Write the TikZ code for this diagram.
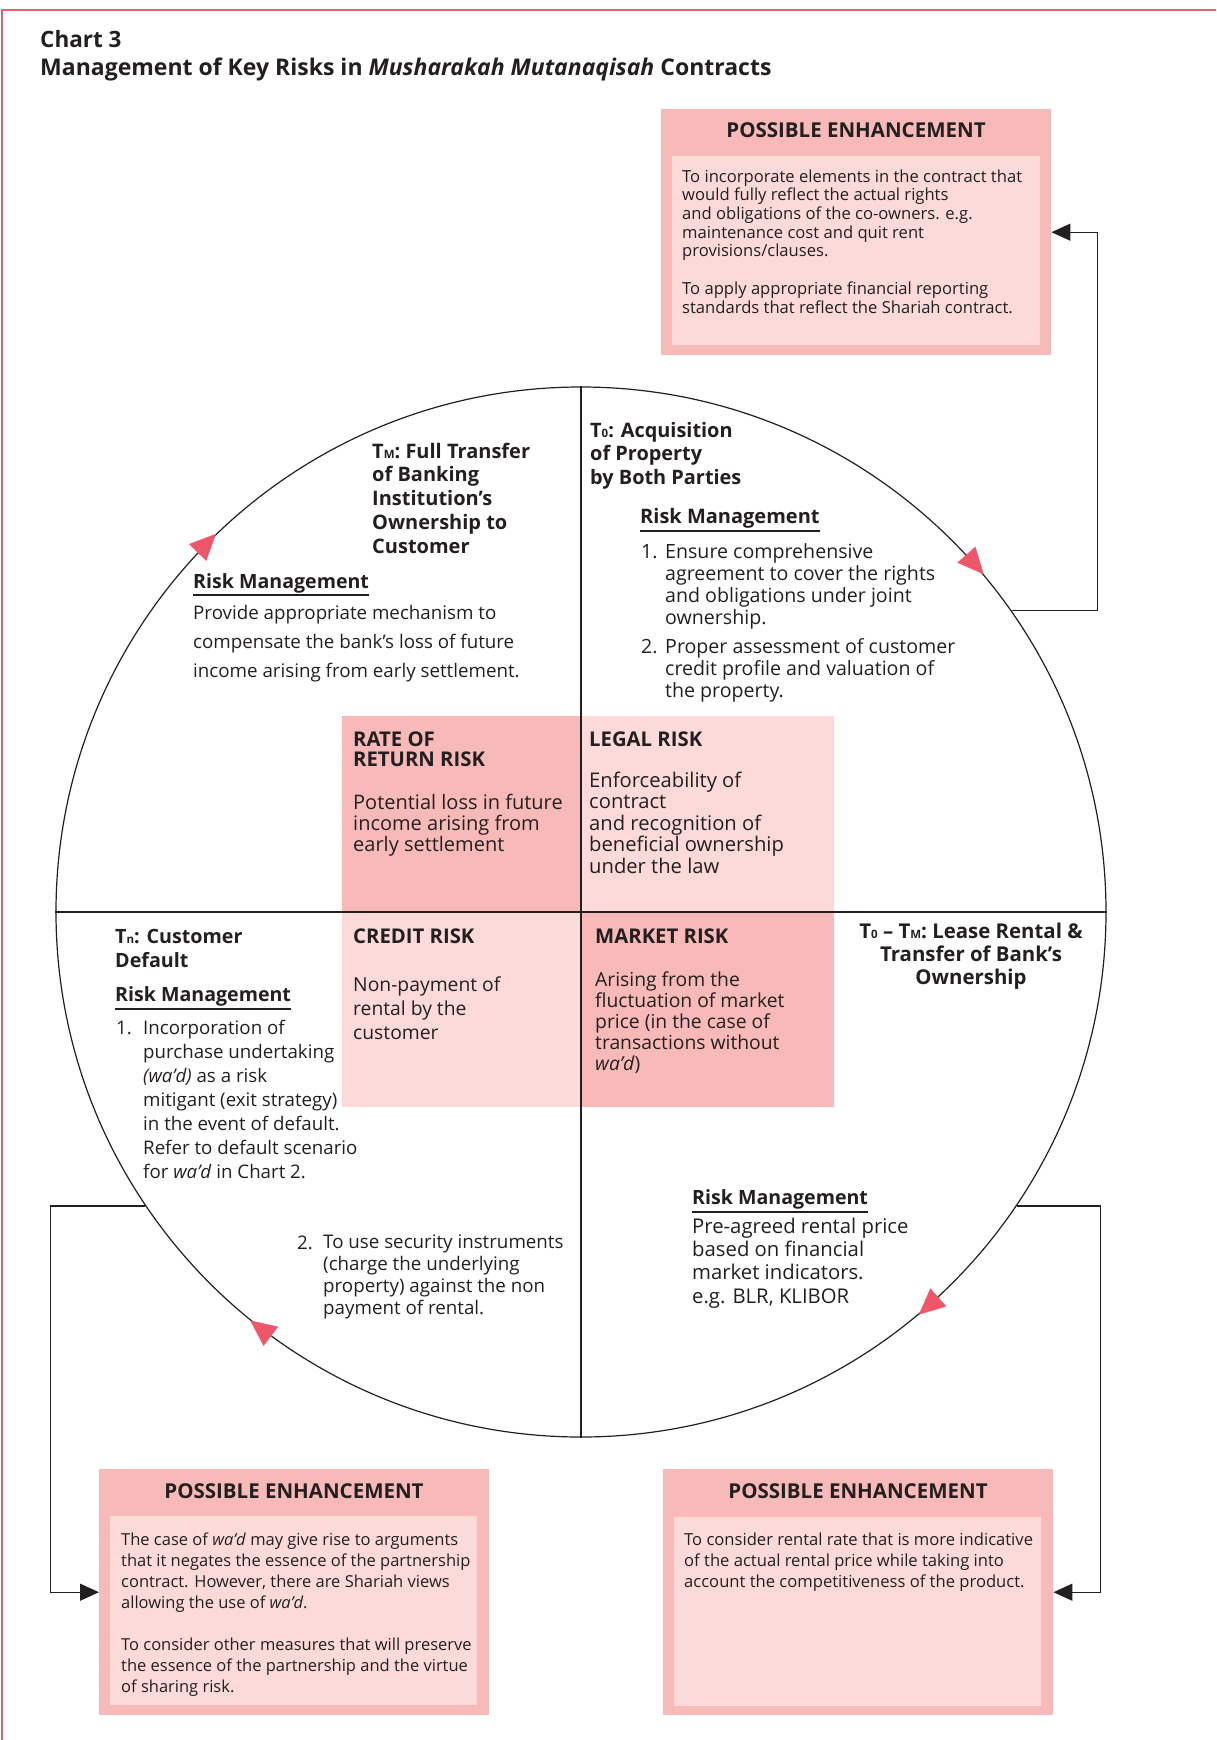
\documentclass[tikz,border=0pt]{standalone}
\usepackage{fontspec}
\setmainfont{Open Sans}
\usepackage{xcolor}
\usepackage{tikz}
\usetikzlibrary{arrows.meta,positioning}

\definecolor{inkgray}{RGB}{35,31,32}
\definecolor{roseDark}{RGB}{248,186,185}
\definecolor{roseLight}{RGB}{252,218,217}
\definecolor{flowred}{RGB}{238,86,106}
\definecolor{framered}{RGB}{236,96,112}

\newcommand{\lowidx}[1]{{\fontsize{11.5}{11.5}\selectfont #1}}

\begin{document}
\begin{tikzpicture}[
  x=1pt,
  y=-1pt,
  every node/.style={inner sep=0pt, text=inkgray},
  riskdark/.style={fill=roseDark, minimum width=239pt, minimum height=195pt, anchor=north west},
  risklight/.style={fill=roseLight, minimum width=253pt, minimum height=195pt, anchor=north west},
  enhouter/.style={fill=roseDark, minimum width=390pt, minimum height=246pt, anchor=north west},
  enhinner/.style={fill=roseLight, minimum width=368pt, minimum height=189pt, anchor=north west},
  enhtitle/.style={anchor=base, font=\bfseries\fontsize{20.5}{22}\selectfont},
  boxtext/.style={anchor=base west, align=left},
  head/.style={anchor=base west, align=left, font=\bfseries\fontsize{20}{23.7}\selectfont},
  riskhead/.style={anchor=base west, align=left, font=\bfseries\fontsize{20.3}{20}\selectfont},
  body/.style={anchor=base west, align=left},
  rmlabel/.style={anchor=base west, font=\bfseries\fontsize{19.6}{23}\selectfont},
  rule/.style={draw=inkgray, line width=1.4pt},
  axis/.style={draw=inkgray, line width=1.4pt},
  link/.style={draw=inkgray, line width=1.3pt, -{Triangle[length=19pt,width=17pt]}},
  flow/.style={draw=flowred, line width=0.4pt, -{Triangle[length=26pt,width=24pt,fill=flowred]}}
]
  \useasboundingbox (0,0) rectangle (1216,1740);
  \draw[framered, line width=2pt] (1216,10) -- (2,10) -- (2,1740);

  % title
  \node[anchor=base west, font=\bfseries\fontsize{22.5}{26}\selectfont] (chart) at (40,47) {Chart 3};
  \node[anchor=base west, font=\bfseries\fontsize{23}{26}\selectfont] (heading) at (40,75)
    {Management of Key Risks in \textit{Musharakah Mutanaqisah} Contracts};

  % risk quadrants
  \node[riskdark] (rrbox) at (342,716) {};
  \node[risklight] (lgbox) at (581,716) {};
  \node[risklight, minimum width=239pt, minimum height=196pt] (crbox) at (342,911) {};
  \node[riskdark, minimum width=253pt, minimum height=196pt] (mkbox) at (581,911) {};

  % the cycle
  \node[circle, draw=inkgray, line width=1.2pt, minimum size=1050pt] (ring) at (581,912) {};
  \draw[axis] (ring.north) -- (ring.south);
  \draw[axis] (ring.west) -- (ring.east);

  \draw[flow] (ring.43.2) -- (ring.40.3);
  \draw[flow] (ring.137.6) -- (ring.134.7);
  \draw[flow] (ring.234.2) -- (ring.231.3);
  \draw[flow] (ring.-47.8) -- (ring.-50.7);

  % enhancement boxes
  \node[enhouter] (enhTop) at (661,109) {};
  \node[enhinner] (enhTopIn) at (672,156) {};
  \node[enhouter] (enhBL) at (99,1469) {};
  \node[enhinner, minimum width=367pt] (enhBLIn) at (110,1516) {};
  \node[enhouter] (enhBR) at (663,1469) {};
  \node[enhinner, minimum width=367pt] (enhBRIn) at (674,1517) {};

  \node[enhtitle] (enhTopT) at (856,137) {POSSIBLE ENHANCEMENT};
  \node[enhtitle] (enhBLT) at (294,1498) {POSSIBLE ENHANCEMENT};
  \node[enhtitle] (enhBRT) at (858,1498) {POSSIBLE ENHANCEMENT};

  % multi-line nodes sit on the baseline of their last line
  \node[boxtext, font=\fontsize{16.6}{18.7}\selectfont] (enhTopB) at (682,313)
    {To incorporate elements in the contract that\\would fully reflect the actual rights\\and obligations of the co-owners. e.g.\\maintenance cost and quit rent\\provisions/clauses.\\[18.7pt]To apply appropriate financial reporting\\standards that reflect the Shariah contract.};
  \node[boxtext, font=\fontsize{16.5}{20.9}\selectfont] (enhBLB) at (121,1692)
    {The case of \textit{wa’d} may give rise to arguments\\that it negates the essence of the partnership\\contract. However, there are Shariah views\\allowing the use of \textit{wa’d}.\\[20.9pt]To consider other measures that will preserve\\the essence of the partnership and the virtue\\of sharing risk.};
  \node[boxtext, font=\fontsize{16.6}{20.9}\selectfont] (enhBRB) at (684,1587)
    {To consider rental rate that is more indicative\\of the actual rental price while taking into\\account the competitiveness of the product.};

  \draw[link] (ring.35) -- ++(86,0) |- (enhTop.east);
  \draw[link] (ring.-34.5) -- ++(84,0) |- (enhBR.east);
  \draw[link] (ring.214.5) -- ++(-95,0) |- (enhBL.west);

  % risks in the middle
  \node[riskhead] (rrT) at (353,766) {RATE OF\\RETURN RISK};
  \node[body, font=\fontsize{20}{21}\selectfont] (rrB) at (353,851)
    {Potential loss in future\\income arising from\\early settlement};
  \node[riskhead] (lgT) at (589,746) {LEGAL RISK};
  \node[body, font=\fontsize{20.2}{21.5}\selectfont] (lgB) at (589,873)
    {Enforceability of\\contract\\and recognition of\\beneficial ownership\\under the law};
  \node[riskhead] (crT) at (353,943) {CREDIT RISK};
  \node[body, font=\fontsize{19.3}{24}\selectfont] (crB) at (353,1039)
    {Non-payment of\\rental by the\\customer};
  \node[riskhead] (mkT) at (595,943) {MARKET RISK};
  \node[body, font=\fontsize{19.3}{21}\selectfont] (mkB) at (595,1070)
    {Arising from the\\fluctuation of market\\price (in the case of\\transactions without\\\textit{wa’d})};

  % top left: TM
  \node[head] (tm) at (372,553)
    {T\lowidx{M}: Full Transfer\\of Banking\\Institution’s\\Ownership to\\Customer};
  \node[rmlabel] (rmTL) at (193,588) {Risk Management};
  \draw[rule] ([yshift=-7pt]rmTL.base west) -- ([yshift=-7pt]rmTL.base east);
  \node[body, font=\fontsize{18.75}{29}\selectfont] (rmTLB) at (193,677)
    {Provide appropriate mechanism to\\compensate the bank’s loss of future\\income arising from early settlement.};

  % top right: T0
  \node[head, font=\bfseries\fontsize{19.9}{23.3}\selectfont] (t0) at (590,484)
    {T\lowidx{0}: Acquisition\\of Property\\by Both Parties};
  \node[rmlabel, font=\bfseries\fontsize{20}{23}\selectfont] (rmTR) at (640,523) {Risk Management};
  \draw[rule] ([yshift=-8pt]rmTR.base west) -- ([yshift=-8pt]rmTR.base east);
  \node[body, font=\fontsize{19.6}{22}\selectfont] (n1TR) at (641,558) {1.};
  \node[body, font=\fontsize{19.6}{22}\selectfont] (i1TR) at (665,624)
    {Ensure comprehensive\\agreement to cover the rights\\and obligations under joint\\ownership.};
  \node[body, font=\fontsize{19.6}{22}\selectfont] (n2TR) at (641,653) {2.};
  \node[body, font=\fontsize{19.6}{22}\selectfont] (i2TR) at (665,697)
    {Proper assessment of customer\\credit profile and valuation of\\the property.};

  % bottom left: Tn
  \node[head, font=\bfseries\fontsize{19.7}{24}\selectfont] (tn) at (115,967)
    {T\lowidx{n}: Customer\\Default};
  \node[rmlabel] (rmBL) at (115,1001) {Risk Management};
  \draw[rule] ([yshift=-8pt]rmBL.base west) -- ([yshift=-8pt]rmBL.base east);
  \node[body, font=\fontsize{18.7}{24}\selectfont] (n1BL) at (116,1034) {1.};
  \node[body, font=\fontsize{18.7}{24}\selectfont] (i1BL) at (143,1178)
    {Incorporation of\\purchase undertaking\\\textit{(wa’d)} as a risk\\mitigant (exit strategy)\\in the event of default.\\Refer to default scenario\\for \textit{wa’d} in Chart 2.};
  \node[body, font=\fontsize{18.75}{21.7}\selectfont] (n2BL) at (297,1249) {2.};
  \node[body, font=\fontsize{18.75}{21.7}\selectfont] (i2BL) at (323,1314)
    {To use security instruments\\(charge the underlying\\property) against the non\\payment of rental.};

  % bottom right: T0 - TM
  \node[head, anchor=base, align=center, font=\bfseries\fontsize{20.4}{23}\selectfont] (t0tm) at (971,984)
    {T\lowidx{0} – T\lowidx{M}: Lease Rental \&\\Transfer of Bank’s\\Ownership};
  \node[rmlabel] (rmBR) at (692,1204) {Risk Management};
  \draw[rule] ([yshift=-8pt]rmBR.base west) -- ([yshift=-8pt]rmBR.base east);
  \node[body, font=\fontsize{20.3}{23.3}\selectfont] (rmBRB) at (692,1303)
    {Pre-agreed rental price\\based on financial\\market indicators.\\e.g. BLR, KLIBOR};
\end{tikzpicture}
\end{document}
